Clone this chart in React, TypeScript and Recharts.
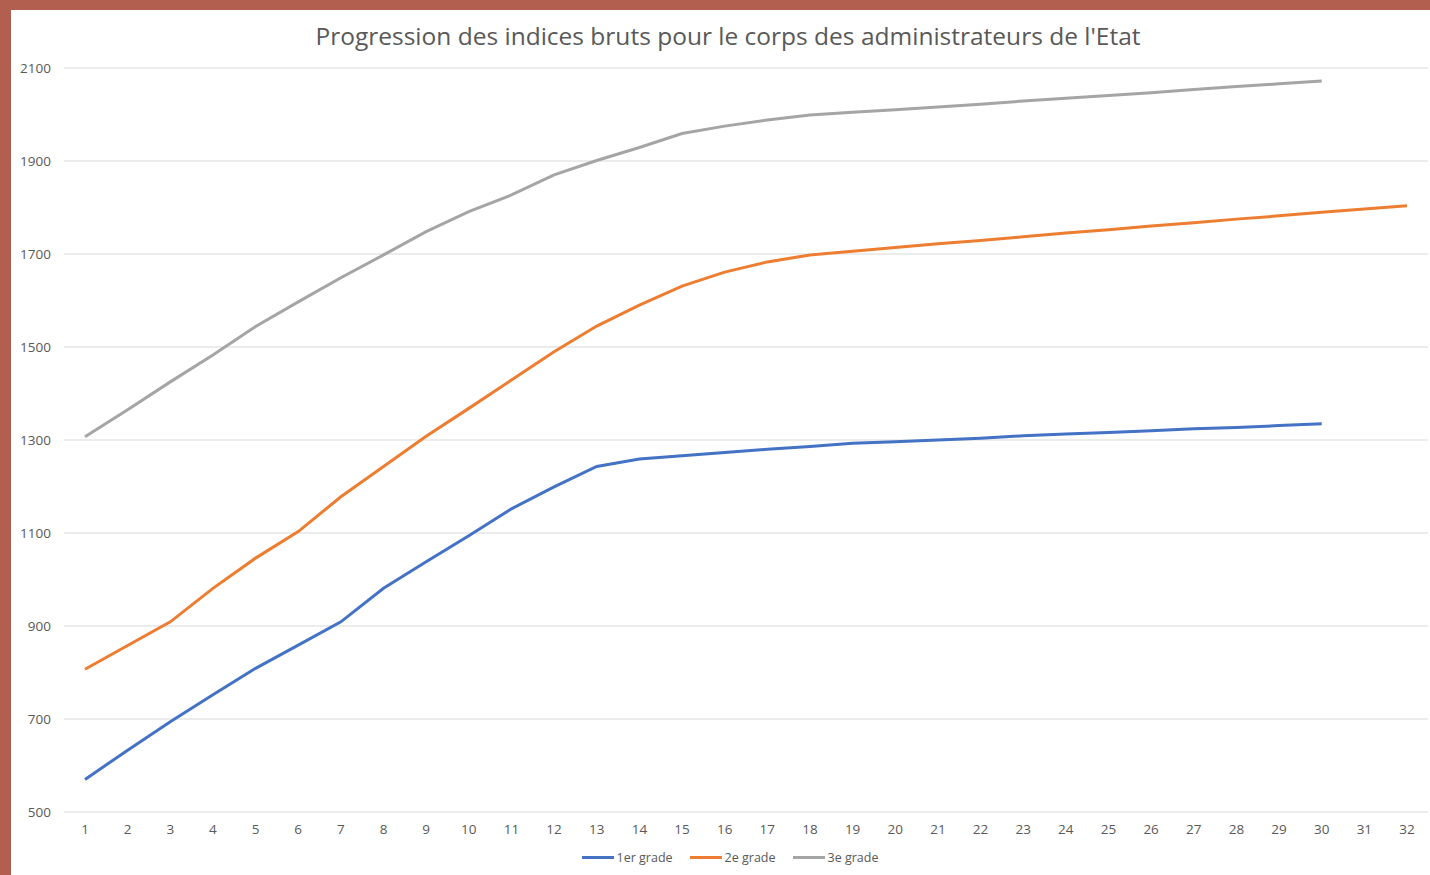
import React from 'react';
import { LineChart, Line, XAxis, YAxis, CartesianGrid, Legend } from 'recharts';

const echelons = [
  '1', '2', '3', '4', '5', '6', '7', '8', '9', '10', '11', '12', '13', '14', '15', '16',
  '17', '18', '19', '20', '21', '22', '23', '24', '25', '26', '27', '28', '29', '30', '31', '32',
];

const grade1 = [
  570, 633, 694, 752, 809, 859, 909, 981, 1038, 1094, 1152, 1199, 1243, 1259, 1266, 1273,
  1280, 1286, 1293, 1296, 1300, 1304, 1309, 1313, 1316, 1320, 1324, 1327, 1331, 1335, null, null,
];

const grade2 = [
  807, 858, 909, 981, 1046, 1103, 1178, 1243, 1308, 1368, 1429, 1490, 1545, 1590, 1631, 1661,
  1683, 1698, 1706, 1714, 1722, 1729, 1737, 1745, 1752, 1760, 1767, 1775, 1782, 1790, 1797, 1804,
];

const grade3 = [
  1307, 1365, 1425, 1483, 1544, 1597, 1649, 1698, 1748, 1791, 1827, 1870, 1901, 1929, 1959, 1975,
  1988, 1999, 2005, 2010, 2016, 2022, 2029, 2035, 2041, 2047, 2054, 2060, 2066, 2072, null, null,
];

const yTicks = [500, 700, 900, 1100, 1300, 1500, 1700, 1900, 2100];

const chartData = echelons.map((e, i) => ({
  echelon: e,
  g1: grade1[i],
  g2: grade2[i],
  g3: grade3[i],
}));

const textColor = '#595959';
const font = '"Open Sans", sans-serif';

// légende façon Excel : trait épais + libellé
const renderLegend = (props: any) => {
  const { payload } = props;
  return (
    <div
      style={{
        display: 'flex',
        justifyContent: 'center',
        alignItems: 'center',
        height: 20,
        paddingLeft: 30,
        fontFamily: font,
        fontSize: 12.5,
        color: textColor,
      }}
    >
      {payload.map((entry: any) => (
        <span key={entry.value} style={{ display: 'flex', alignItems: 'center', marginRight: 17 }}>
          <span style={{ display: 'inline-block', width: 32, height: 3, background: entry.color, marginRight: 3 }} />
          {entry.value}
        </span>
      ))}
    </div>
  );
};

export default function App() {
  return (
    <div style={{ position: 'absolute', left: 0, top: 0, width: 1430, height: 875, background: '#b25f4f' }}>
      <div style={{ position: 'absolute', left: 11, top: 10, width: 1419, height: 865, background: '#fff' }}>
        <div
          style={{
            position: 'absolute',
            left: 0,
            top: 10,
            width: 1419,
            paddingLeft: 15,
            boxSizing: 'border-box',
            textAlign: 'center',
            fontFamily: font,
            fontSize: 24.5,
            lineHeight: '32px',
            color: textColor,
          }}
        >
          Progression des indices bruts pour le corps des administrateurs de l'Etat
        </div>
        <LineChart
          width={1419}
          height={865}
          data={chartData}
          margin={{ top: 58, right: 2, left: 8, bottom: 8 }}
        >
          <CartesianGrid vertical={false} stroke="#d9d9d9" strokeWidth={1} />
          <XAxis
            dataKey="echelon"
            interval={0}
            padding={{ left: 21, right: 21 }}
            axisLine={false}
            tickLine={false}
            tickSize={0}
            tickMargin={12}
            height={35}
            tick={{ fill: textColor, fontSize: 13.5, fontFamily: font }}
          />
          <YAxis
            domain={[500, 2100]}
            ticks={yTicks}
            width={45}
            axisLine={false}
            tickLine={false}
            tickSize={0}
            tickMargin={13}
            tick={{ fill: textColor, fontSize: 13.5, fontFamily: font }}
          />
          <Legend verticalAlign="bottom" content={renderLegend} />
          <Line type="linear" dataKey="g1" name="1er grade" stroke="#4472c4" strokeWidth={3} dot={false} isAnimationActive={false} />
          <Line type="linear" dataKey="g2" name="2e grade" stroke="#ed7d31" strokeWidth={3} dot={false} isAnimationActive={false} />
          <Line type="linear" dataKey="g3" name="3e grade" stroke="#a5a5a5" strokeWidth={3} dot={false} isAnimationActive={false} />
        </LineChart>
      </div>
    </div>
  );
}
